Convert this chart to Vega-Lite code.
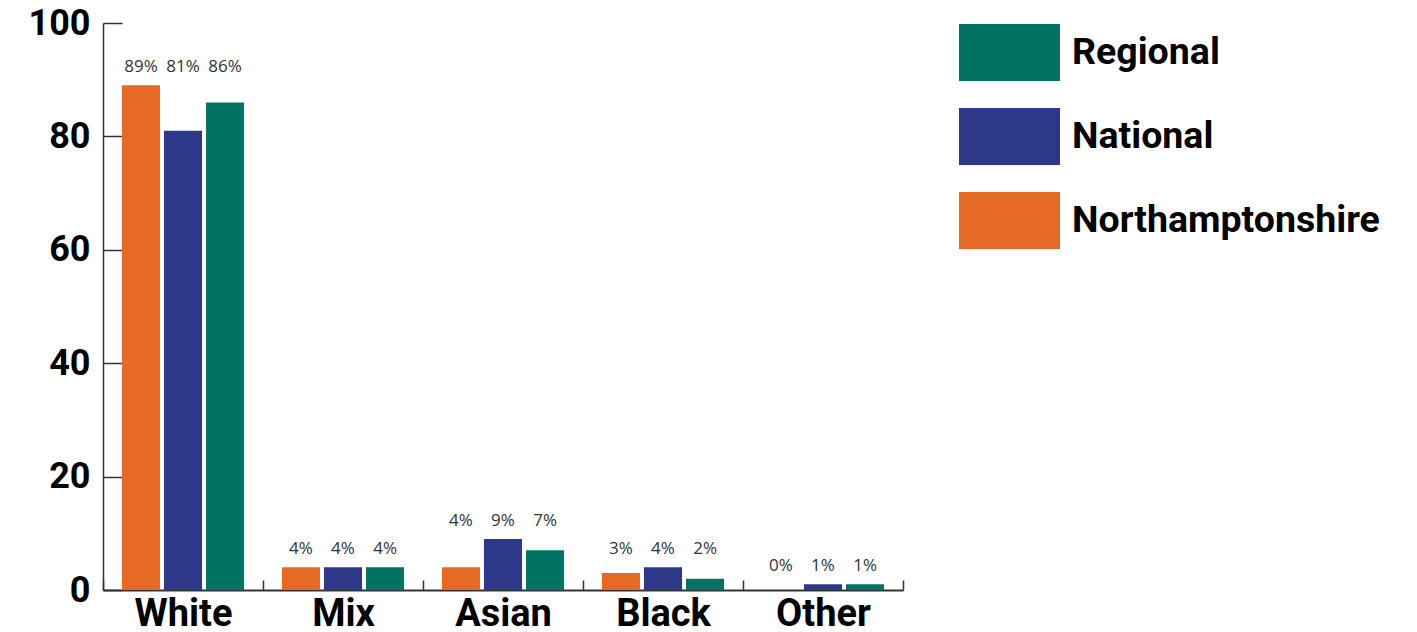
{
  "$schema": "https://vega.github.io/schema/vega-lite/v6.json",
  "width": 800,
  "height": 567,
  "autosize": {"type": "none"},
  "padding": {"left": 103, "top": 23, "right": 514, "bottom": 42},
  "background": "white",
  "config": {"view": {"stroke": null}, "font": "Roboto"},
  "data": {
    "values": [
      {"category": "White", "series": "Northamptonshire", "value": 89},
      {"category": "White", "series": "National", "value": 81},
      {"category": "White", "series": "Regional", "value": 86},
      {"category": "Mix", "series": "Northamptonshire", "value": 4},
      {"category": "Mix", "series": "National", "value": 4},
      {"category": "Mix", "series": "Regional", "value": 4},
      {"category": "Asian", "series": "Northamptonshire", "value": 4},
      {"category": "Asian", "series": "National", "value": 9},
      {"category": "Asian", "series": "Regional", "value": 7},
      {"category": "Black", "series": "Northamptonshire", "value": 3},
      {"category": "Black", "series": "National", "value": 4},
      {"category": "Black", "series": "Regional", "value": 2},
      {"category": "Other", "series": "Northamptonshire", "value": 0},
      {"category": "Other", "series": "National", "value": 1},
      {"category": "Other", "series": "Regional", "value": 1}
    ]
  },
  "transform": [
    {"joinaggregate": [{"op": "max", "field": "value", "as": "groupMax"}], "groupby": ["category"]}
  ],
  "encoding": {
    "x": {
      "field": "category",
      "type": "nominal",
      "sort": ["White", "Mix", "Asian", "Black", "Other"],
      "scale": {"paddingInner": 0, "paddingOuter": 0},
      "axis": {
        "title": null,
        "labelAngle": 0,
        "labelFont": "Roboto",
        "labelFontSize": 38,
        "labelFontWeight": "bold",
        "labelColor": "#000000",
        "labelPadding": 15,
        "tickBand": "extent",
        "tickSize": -10,
        "tickColor": "#333333",
        "tickWidth": 1.5,
        "domainColor": "#333333",
        "domainWidth": 2
      }
    },
    "xOffset": {
      "field": "series",
      "type": "nominal",
      "sort": ["Northamptonshire", "National", "Regional"],
      "scale": {"paddingInner": 0.095, "paddingOuter": 0.45}
    }
  },
  "layer": [
    {
      "mark": {"type": "bar"},
      "encoding": {
        "y": {
          "field": "value",
          "type": "quantitative",
          "scale": {"domain": [0, 100], "nice": false},
          "axis": {
            "title": null,
            "values": [0, 20, 40, 60, 80, 100],
            "grid": false,
            "labelFont": "Roboto",
            "labelFontSize": 36,
            "labelFontWeight": "bold",
            "labelColor": "#000000",
            "labelPadding": 32,
            "tickSize": -19,
            "tickColor": "#333333",
            "tickWidth": 1.5,
            "domainColor": "#333333",
            "domainWidth": 1.5
          }
        },
        "color": {
          "field": "series",
          "type": "nominal",
          "scale": {
            "domain": ["Northamptonshire", "National", "Regional"],
            "range": ["#E66A26", "#2D3889", "#007363"]
          },
          "legend": {
            "title": null,
            "orient": "none",
            "legendX": 856,
            "legendY": -21,
            "padding": 0,
            "values": ["Regional", "National", "Northamptonshire"],
            "symbolType": "M-1,-0.564H1V0.564H-1Z",
            "symbolSize": 10201,
            "symbolStrokeWidth": 0,
            "labelFont": "Roboto",
            "labelFontSize": 37.5,
            "labelFontWeight": "bold",
            "labelColor": "#000000",
            "labelOffset": 12,
            "rowPadding": 5,
            "labelLimit": 500
          }
        }
      }
    },
    {
      "mark": {
        "type": "text",
        "dy": -18,
        "baseline": "middle",
        "fontSize": 17,
        "font": "Open Sans",
        "color": "#333333",
        "text": {"expr": "datum.value + '%'"}
      },
      "encoding": {
        "y": {"field": "groupMax", "type": "quantitative", "axis": {"title": null}}
      }
    }
  ]
}
